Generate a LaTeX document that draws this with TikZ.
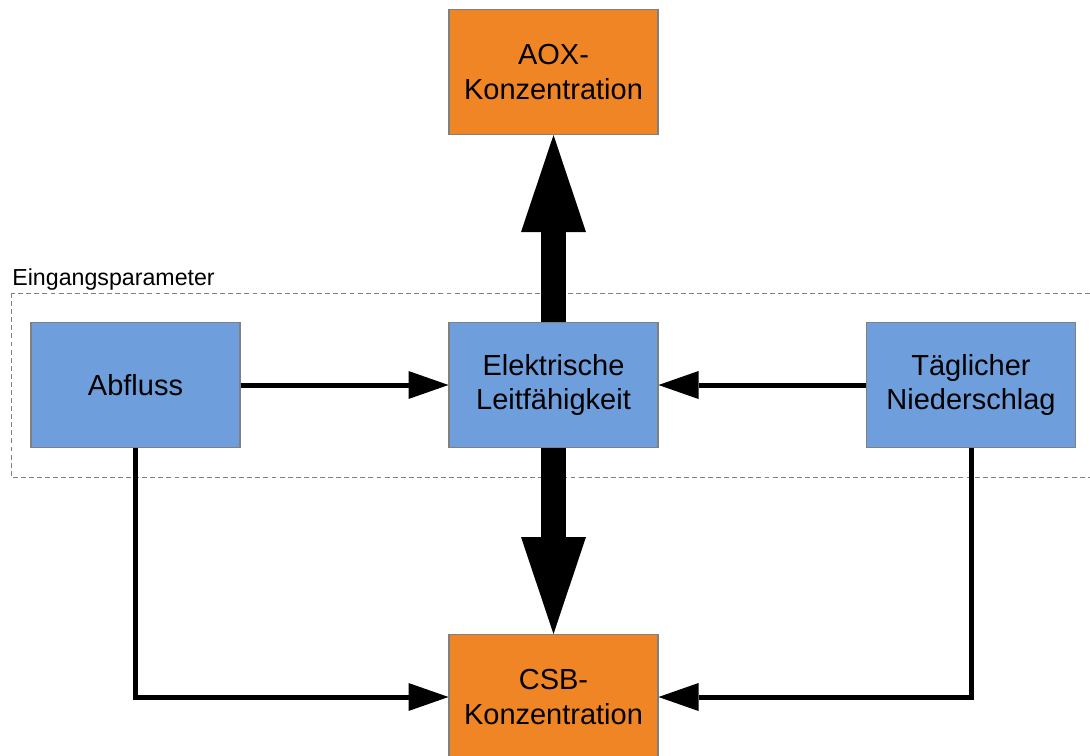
\documentclass[tikz,border=0pt]{standalone}
\usepackage{fontspec}
\setmainfont{Liberation Sans}
\usetikzlibrary{arrows.meta}
\definecolor{boxblue}{RGB}{110,158,219}
\definecolor{boxorange}{RGB}{240,133,38}
\tikzset{
	block/.style={draw=black!50, line width=0.6pt, minimum width=4.18cm, minimum height=2.5cm, inner sep=0pt, align=center, font=\fontsize{16.5}{19.8}\selectfont},
	inputblock/.style={block, fill=boxblue},
	outputblock/.style={block, fill=boxorange},
	bigarrow/.style={line width=0.5cm, -{Triangle[length=1.94cm, width=1.3cm, line width=0pt]}},
	flowarrow/.style={line width=0.1cm, -{Triangle[length=0.8cm, width=0.56cm, line width=0pt]}}
}
\begin{document}
\begin{tikzpicture}[x=0.02cm, y=-0.02cm]
	\useasboundingbox (0,0) rectangle (1090,755);
	\clip (0,0) rectangle (1090,755);
	\draw [black!50, line width=0.5pt, dash pattern=on 2.8pt off 1.8pt] (11,293) rectangle (1110,477);
	\node [anchor=base west, inner sep=0pt, font=\fontsize{13.2}{15}\selectfont] (inputlabel) at (12,285) {Eingangsparameter};
	\node [outputblock] (aox) at (553.5,72) {AOX-\\Konzentration};
	\node [inputblock] (elek) at (553.5,385) {Elektrische\\Leitfähigkeit};
	\node [inputblock] (abfluss) at (135.5,385) {Abfluss};
	\node [inputblock] (taeglich) at (971,385) {Täglicher\\Niederschlag};
	\node [outputblock] (csb) at (553.5,697) {CSB-\\Konzentration};
	\draw [bigarrow] (elek.north) -- (aox.south);
	\draw [bigarrow] (elek.south) -- (csb.north);
	\draw [flowarrow] (abfluss.east) -- (elek.west);
	\draw [flowarrow] (taeglich.west) -- (elek.east);
	\draw [flowarrow] (abfluss.south) |- (csb.west);
	\draw [flowarrow] (taeglich.south) |- (csb.east);
\end{tikzpicture}
\end{document}
